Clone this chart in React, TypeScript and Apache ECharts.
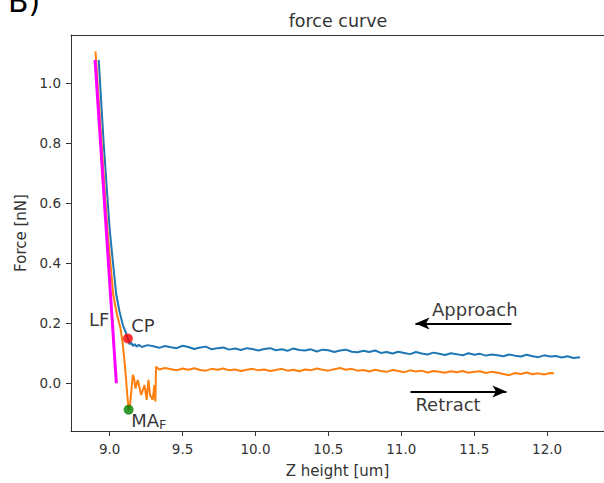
import React, { useEffect, useRef } from "react";
import * as echarts from "echarts";

const FONT = "DejaVu Sans";

// Approach curve (blue): [Z height um, Force nN]
const approachCurve: [number, number][] = [
  [8.925, 1.077], [8.959, 0.8], [9.0, 0.514], [9.0225, 0.403], [9.046, 0.293], [9.068, 0.238],
  [9.091, 0.193], [9.109, 0.171], [9.125, 0.149], [9.136, 0.13], [9.148, 0.135], [9.16, 0.124],
  [9.172, 0.13], [9.185, 0.122], [9.2, 0.128],
  [9.22, 0.121], [9.26, 0.127], [9.3, 0.123], [9.34, 0.118], [9.38, 0.124], [9.42, 0.12],
  [9.46, 0.117], [9.5, 0.125], [9.54, 0.121], [9.58, 0.114], [9.62, 0.119], [9.66, 0.122],
  [9.7, 0.113], [9.74, 0.117], [9.78, 0.119], [9.82, 0.112], [9.86, 0.116], [9.9, 0.111],
  [9.94, 0.117], [9.98, 0.114], [10.02, 0.109], [10.06, 0.114], [10.1, 0.117], [10.14, 0.11],
  [10.18, 0.113], [10.22, 0.108], [10.26, 0.116], [10.3, 0.111], [10.34, 0.109], [10.38, 0.113],
  [10.42, 0.106], [10.46, 0.112], [10.5, 0.11], [10.54, 0.104], [10.58, 0.109], [10.62, 0.112],
  [10.66, 0.105], [10.7, 0.103], [10.74, 0.108], [10.78, 0.104], [10.82, 0.109], [10.86, 0.101],
  [10.9, 0.104], [10.94, 0.099], [10.98, 0.105], [11.02, 0.101], [11.06, 0.097], [11.1, 0.104],
  [11.14, 0.099], [11.18, 0.096], [11.22, 0.102], [11.26, 0.098], [11.3, 0.094], [11.34, 0.1],
  [11.38, 0.097], [11.42, 0.093], [11.46, 0.1], [11.5, 0.095], [11.54, 0.098], [11.58, 0.092],
  [11.62, 0.096], [11.66, 0.093], [11.7, 0.09], [11.74, 0.096], [11.78, 0.092], [11.82, 0.089],
  [11.86, 0.095], [11.9, 0.09], [11.94, 0.087], [11.98, 0.093], [12.02, 0.089], [12.06, 0.091],
  [12.1, 0.086], [12.14, 0.09], [12.18, 0.084], [12.226, 0.087],
];

// Retract curve (orange)
const retractCurve: [number, number][] = [
  [8.903, 1.105], [8.984, 0.514], [9.005, 0.403], [9.025, 0.293], [9.05, 0.23], [9.075, 0.182],
  [9.09, 0.13], [9.102, 0.072], [9.113, 0.01], [9.121, -0.039], [9.13, -0.088], [9.14, -0.07],
  [9.15, -0.02], [9.159, 0.028], [9.168, 0.015], [9.177, -0.017], [9.193, 0.011], [9.216, -0.039],
  [9.239, -0.006], [9.254, -0.055], [9.266, 0.011], [9.277, -0.039], [9.295, -0.055], [9.307, -0.006],
  [9.314, -0.061], [9.318, 0.055],
  [9.34, 0.046], [9.38, 0.051], [9.42, 0.047], [9.46, 0.043], [9.5, 0.049], [9.54, 0.045],
  [9.58, 0.05], [9.62, 0.044], [9.66, 0.042], [9.7, 0.048], [9.74, 0.045], [9.78, 0.049],
  [9.82, 0.043], [9.86, 0.046], [9.9, 0.041], [9.94, 0.045], [9.98, 0.048], [10.02, 0.043],
  [10.06, 0.046], [10.1, 0.041], [10.14, 0.044], [10.18, 0.048], [10.22, 0.042], [10.26, 0.045],
  [10.3, 0.04], [10.34, 0.046], [10.38, 0.043], [10.42, 0.049], [10.46, 0.045], [10.5, 0.042],
  [10.54, 0.047], [10.58, 0.051], [10.62, 0.045], [10.66, 0.048], [10.7, 0.042], [10.74, 0.044],
  [10.78, 0.039], [10.82, 0.045], [10.86, 0.041], [10.9, 0.038], [10.94, 0.044], [10.98, 0.041],
  [11.02, 0.037], [11.06, 0.043], [11.1, 0.039], [11.14, 0.042], [11.18, 0.036], [11.22, 0.041],
  [11.26, 0.038], [11.3, 0.035], [11.34, 0.04], [11.38, 0.037], [11.42, 0.041], [11.46, 0.035],
  [11.5, 0.038], [11.54, 0.04], [11.58, 0.034], [11.62, 0.038], [11.66, 0.035], [11.7, 0.031],
  [11.74, 0.027], [11.78, 0.034], [11.82, 0.031], [11.86, 0.036], [11.9, 0.03], [11.94, 0.033],
  [11.98, 0.029], [12.02, 0.034], [12.047, 0.033],
];

// Linear fit line (magenta)
const lfLine: [number, number][] = [[8.9, 1.077], [9.046, 0.0]];

const contactPoint: [number, number] = [9.125, 0.149];
const maxAdhesion: [number, number] = [9.13, -0.088];

const xTicks = [9.0, 9.5, 10.0, 10.5, 11.0, 11.5, 12.0];
const yTicks = [0.0, 0.2, 0.4, 0.6, 0.8, 1.0];

const noteNames = ["LF", "CP", "MA_F", "Approach", "Retract"];
const notePositions: [number, number][] = [
  [8.859, 0.2125], [9.148, 0.1906], [9.148, -0.1226], [11.211, 0.2463], [11.097, -0.0696],
];

const approachArrow: [number, number][] = [[11.755, 0.199], [11.097, 0.199]];
const retractArrow: [number, number][] = [[11.063, -0.0275], [11.721, -0.0275]];

const X_MIN = 8.735;
const X_MAX = 12.39;
const Y_MIN = -0.159;
const Y_MAX = 1.16;

export default function App() {
  const ref = useRef<HTMLDivElement>(null);
  useEffect(() => {
    if (!ref.current) return;
    const chart = echarts.init(ref.current, undefined, { renderer: "svg" });
    const axisColor = "#333";
    chart.setOption({
      animation: false,
      backgroundColor: "#fff",
      textStyle: { fontFamily: FONT },
      grid: { left: 71, top: 35, width: 537, height: 398, show: false },
      graphic: [
        {
          type: "text", x: 338, y: 20.5,
          style: {
            text: "force curve", fill: "#333", font: `17.5px "${FONT}"`,
            align: "center", verticalAlign: "middle",
          },
        },
        {
          type: "text", x: 8, y: 16,
          style: {
            text: "B)", fill: "#000", font: `30px "${FONT}"`,
            align: "left", verticalAlign: "bottom",
          },
        },
      ],
      xAxis: [
        {
          type: "value", min: X_MIN, max: X_MAX,
          name: "Z height [um]", nameLocation: "middle", nameGap: 32,
          nameTextStyle: { fontSize: 15, color: axisColor, fontFamily: FONT },
          axisLine: { show: true, onZero: false, lineStyle: { color: axisColor, width: 1 } },
          axisTick: { show: true, length: 5, inside: false, customValues: xTicks, lineStyle: { color: axisColor } },
          axisLabel: {
            customValues: xTicks, formatter: (v: number) => v.toFixed(1),
            fontSize: 13.5, color: axisColor, margin: 11, fontFamily: FONT,
          },
          splitLine: { show: false },
        },
        {
          type: "value", min: X_MIN, max: X_MAX, position: "top",
          axisLine: { show: true, onZero: false, lineStyle: { color: axisColor, width: 1 } },
          axisTick: { show: false }, axisLabel: { show: false }, splitLine: { show: false },
        },
      ],
      yAxis: {
        type: "value", min: Y_MIN, max: Y_MAX,
        name: "Force [nN]", nameLocation: "middle", nameGap: 42,
        nameTextStyle: { fontSize: 15, color: axisColor, fontFamily: FONT },
        axisLine: { show: true, onZero: false, lineStyle: { color: axisColor, width: 1 } },
        axisTick: { show: true, length: 5, inside: false, customValues: yTicks, lineStyle: { color: axisColor } },
        axisLabel: {
          customValues: yTicks, formatter: (v: number) => v.toFixed(1),
          fontSize: 13.5, color: axisColor, margin: 10, fontFamily: FONT,
        },
        splitLine: { show: false },
      },
      series: [
        {
          name: "approach", type: "line", data: approachCurve, showSymbol: false, z: 2,
          lineStyle: { color: "#1f77b4", width: 2 }, itemStyle: { color: "#1f77b4" },
        },
        {
          name: "retract", type: "line", data: retractCurve, showSymbol: false, z: 3,
          lineStyle: { color: "#ff7f0e", width: 2 }, itemStyle: { color: "#ff7f0e" },
        },
        {
          name: "LF", type: "line", data: lfLine, showSymbol: false, z: 4,
          lineStyle: { color: "#ff00ff", width: 3 }, itemStyle: { color: "#ff00ff" },
          markLine: {
            silent: true, symbol: ["none", "arrow"], symbolSize: [9, 14],
            label: { show: false },
            lineStyle: { color: "#000", width: 2, type: "solid" },
            emphasis: { disabled: true },
            data: [
              [{ coord: approachArrow[0] }, { coord: approachArrow[1] }],
              [{ coord: retractArrow[0] }, { coord: retractArrow[1] }],
            ],
          },
        },
        {
          name: "CP", type: "scatter", data: [contactPoint], symbolSize: 10, z: 5,
          itemStyle: { color: "#ff0000" },
        },
        {
          name: "MA", type: "scatter", data: [maxAdhesion], symbolSize: 10, z: 5,
          itemStyle: { color: "#008000" },
        },
        {
          name: "notes", type: "scatter", z: 6, symbolSize: 0.1,
          itemStyle: { color: "rgba(0,0,0,0)" },
          data: noteNames.map((n, i) => ({ name: n, value: notePositions[i] })),
          label: {
            show: true, position: [0, 0], align: "left", verticalAlign: "middle",
            fontSize: 18, color: "#000", fontFamily: FONT,
            formatter: (p: any) => (p.name === "MA_F" ? "{a|MA}{b|F}" : p.name),
            rich: {
              a: { fontSize: 18, lineHeight: 22, color: "#000", fontFamily: FONT },
              b: { fontSize: 13, lineHeight: 10, verticalAlign: "bottom", color: "#000", fontFamily: FONT },
            },
          },
        },
      ],
    });
    return () => chart.dispose();
  }, []);
  return (
    <div
      ref={ref}
      style={{ position: "fixed", left: 0, top: 0, width: 604, height: 483, background: "#fff" }}
    />
  );
}
